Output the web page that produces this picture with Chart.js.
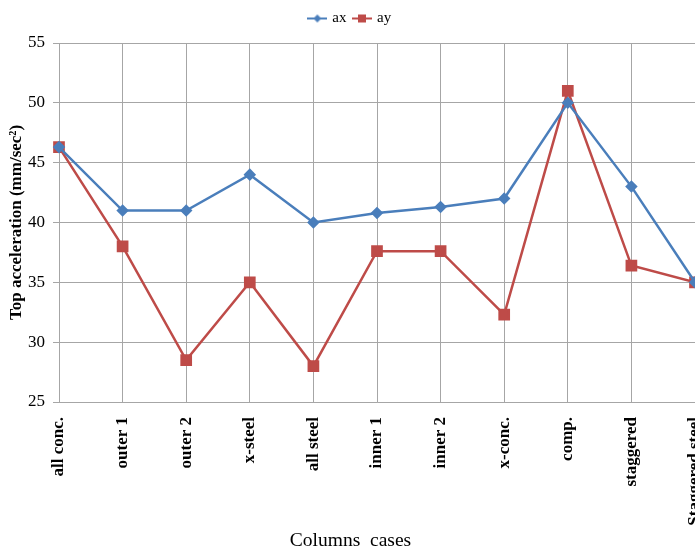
<!DOCTYPE html>
<html>
<head>
<meta charset="utf-8">
<script src="https://cdn.jsdelivr.net/npm/chart.js@4"></script>
<style>
  html, body { margin: 0; padding: 0; background: #fff; overflow: hidden; }
  #wrap { width: 695px; height: 548px; }
</style>
</head>
<body>
<div id="wrap"><canvas id="accChart"></canvas></div>
<script>
// Column cases and top accelerations (mm/sec²)
const cases = ['all conc.', 'outer 1', 'outer 2', 'x-steel', 'all steel', 'inner 1', 'inner 2', 'x-conc.', 'comp.', 'staggered', 'Staggered steel'];
const ax = [46.3, 41, 41, 44, 40, 40.8, 41.3, 42, 50, 43, 35];
const ay = [46.3, 38, 28.5, 35, 28, 37.6, 37.6, 32.3, 51, 36.4, 35];

const blue = '#4a7ebb';
const red = '#be4b48';
const gridColor = '#a6a6a6';
const serif = "'Liberation Serif', 'Times New Roman', serif";

// small line+marker swatch for the legend
function swatch(color, style) {
    const c = document.createElement('canvas');
    c.width = 20; c.height = 10;
    const g = c.getContext('2d');
    g.strokeStyle = color;
    g.lineWidth = 2;
    g.beginPath(); g.moveTo(0, 5); g.lineTo(20, 5); g.stroke();
    g.fillStyle = color;
    if (style === 'diamond') {
        g.beginPath(); g.moveTo(10, 1); g.lineTo(14, 5); g.lineTo(10, 9); g.lineTo(6, 5); g.closePath(); g.fill();
    } else {
        g.fillRect(6, 1, 8, 8);
    }
    return c;
}

// extra gap between legend and plot
const legendGap = {
    id: 'legendGap',
    beforeInit(chart) {
        const fit = chart.legend.fit;
        chart.legend.fit = function () {
            fit.bind(chart.legend)();
            this.height += 7;
        };
    }
};

new Chart(document.getElementById('accChart'), {
    type: 'line',
    data: {
        labels: cases,
        datasets: [
            {
                label: 'ax', data: ax, borderColor: blue, backgroundColor: blue,
                borderWidth: 2.5, pointStyle: 'rectRot', pointRadius: 4.5, pointHoverRadius: 4.5,
                tension: 0, clip: false
            },
            {
                label: 'ay', data: ay, borderColor: red, backgroundColor: red,
                borderWidth: 2.5, pointStyle: 'rect', pointRadius: 6.5, pointHoverRadius: 6.5,
                tension: 0, clip: false
            }
        ]
    },
    options: {
        responsive: true,
        maintainAspectRatio: false,
        animation: false,
        layout: { autoPadding: false, padding: { top: 3, left: 6, right: 0, bottom: 0 } },
        plugins: {
            tooltip: { enabled: false },
            legend: {
                position: 'top',
                labels: {
                    font: { family: serif, size: 15 },
                    color: '#000',
                    boxWidth: 20,
                    padding: 8,
                    usePointStyle: true,
                    generateLabels(chart) {
                        return chart.data.datasets.map((ds, i) => ({
                            text: ds.label,
                            pointStyle: swatch(ds.borderColor, i === 0 ? 'diamond' : 'square'),
                            fillStyle: ds.borderColor,
                            strokeStyle: ds.borderColor,
                            lineWidth: 0,
                            hidden: false,
                            datasetIndex: i,
                            fontColor: '#000'
                        }));
                    }
                }
            },
            title: {
                display: true, position: 'bottom', text: 'Columns  cases', color: '#000',
                font: { family: serif, size: 19.5, weight: 'normal', lineHeight: 1 },
                padding: { top: 0, bottom: -3 }
            }
        },
        scales: {
            x: {
                offset: false,
                grid: { color: gridColor, drawTicks: false },
                border: { color: gridColor },
                ticks: {
                    minRotation: 90, maxRotation: 90, autoSkip: false, padding: 15,
                    color: '#000', font: { family: serif, size: 17, weight: 'bold' }
                },
                afterFit(scale) {
                    scale.height = 129.5;
                    scale.paddingRight = 0;
                }
            },
            y: {
                min: 25, max: 55,
                grid: { color: gridColor, tickLength: 6 },
                border: { color: gridColor },
                ticks: {
                    stepSize: 5, padding: 8, color: '#000',
                    font: { family: serif, size: 17 }
                },
                title: {
                    display: true, text: 'Top acceleration (mm/sec²)', color: '#000',
                    font: { family: serif, size: 17, weight: 'bold' }, padding: { top: 0, bottom: 0 }
                },
                afterFit(scale) { scale.width = 53; }
            }
        }
    },
    plugins: [legendGap]
});
</script>
</body>
</html>
